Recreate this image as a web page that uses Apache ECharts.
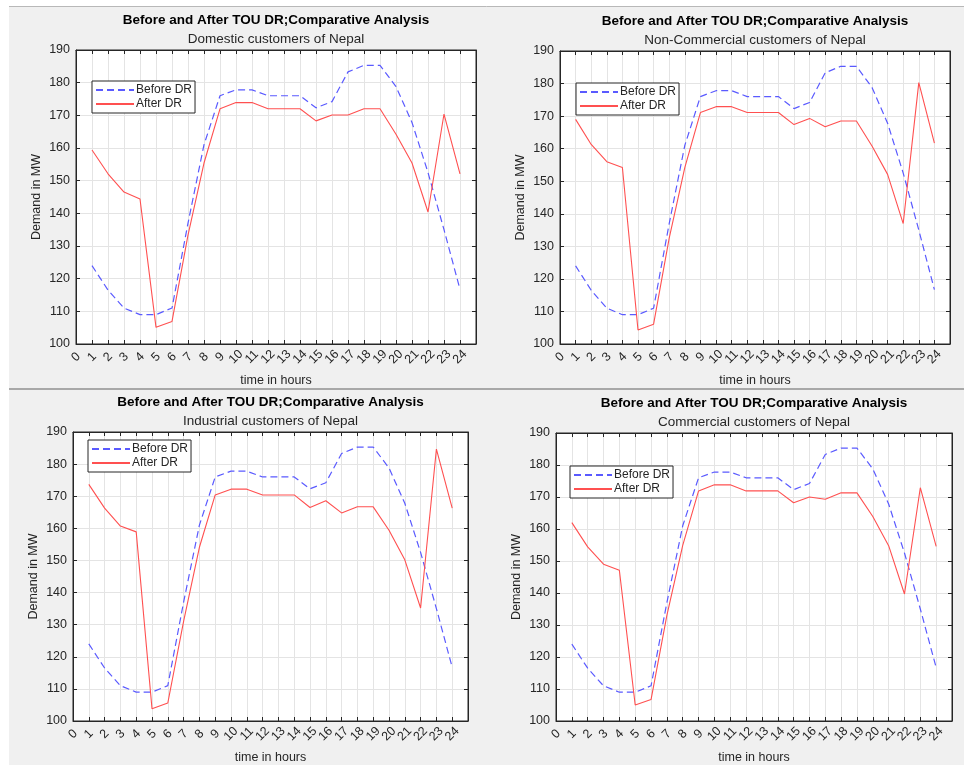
<!DOCTYPE html>
<html>
<head>
<meta charset="utf-8">
<script src="https://cdn.jsdelivr.net/npm/echarts@6/dist/echarts.min.js"></script>
<style>
  html, body { margin: 0; padding: 0; background: #ffffff; }
  #chart { width: 964px; height: 765px; }
</style>
</head>
<body>
<div id="chart"></div>
<script>
// ---------------- data ----------------
const hours = [1,2,3,4,5,6,7,8,9,10,11,12,13,14,15,16,17,18,19,20,21,22,23,24];
const xTickLabels = ['0','1','2','3','4','5','6','7','8','9','10','11','12','13','14','15','16','17','18','19','20','21','22','23','24'];
const yTicks = [100,110,120,130,140,150,160,170,180,190];

const beforeDR = [124,116.5,111,109,109,111,137,161,176,177.8,177.8,176,176,176,172.3,174.2,183.3,185.3,185.3,178.8,167.8,152.5,135,116.7];

const afterDomestic      = [159.4,152.1,146.5,144.4,105.1,106.9,133.3,155.4,172,173.9,173.9,172,172,172,168.3,170.1,170.1,172,172,164.2,155.4,140.4,170.4,152.1];
const afterNonCommercial = [169,161.3,156,154.2,104.3,106.1,132.5,154.2,171.1,172.9,172.9,171.1,171.1,171.1,167.4,169.3,166.7,168.5,168.5,160.8,152.1,137,180.3,161.7];
const afterIndustrial    = [173.7,166.3,160.7,158.9,103.8,105.6,131,154.1,170.4,172.2,172.2,170.4,170.4,170.4,166.5,168.6,164.8,166.7,166.7,159.4,150.2,135.2,184.7,166.3];
const afterCommercial    = [162,154.4,149,147.1,105,106.7,133,154.9,171.9,173.8,173.8,171.9,171.9,171.9,168.2,170,169.3,171.3,171.3,163.9,154.8,139.7,172.9,154.6];

const mainTitle = 'Before and After TOU DR;Comparative Analysis';
const subTitles = ['Domestic customers of Nepal','Non-Commercial customers of Nepal','Industrial customers of Nepal','Commercial customers of Nepal'];
const afterSets = [afterDomestic, afterNonCommercial, afterIndustrial, afterCommercial];
const seriesNames = ['Before DR','After DR'];
const xName = 'time in hours';
const yName = 'Demand in MW';

// ---------------- layout (styling only) ----------------
const panels = [
  {left: 76,  top: 50,  width: 400, height: 294, legendLeft: 92,  legendTop: 81,  titleTop: 13},
  {left: 560, top: 51,  width: 390, height: 293, legendLeft: 576, legendTop: 83,  titleTop: 14},
  {left: 73,  top: 432, width: 395, height: 293, legendLeft: 88,  legendTop: 440, titleTop: 395},
  {left: 556, top: 433, width: 396, height: 292, legendLeft: 570, legendTop: 466, titleTop: 396}
];

const FONT = '"Liberation Sans", Arial, Helvetica, sans-serif';
const DARK = '#262626';
const GRIDC = '#e4e4e4';
const BLUE = '#5a5aff';
const RED = '#ff5050';

const option = {
  animation: false,
  backgroundColor: '#ffffff',
  textStyle: { fontFamily: FONT },
  title: [], grid: [], xAxis: [], yAxis: [], series: [], legend: [],
  graphic: [
    { type: 'rect', z: -10, shape: { x: 9, y: 6, width: 955, height: 759 }, style: { fill: '#f0f0f0' } },
    { type: 'line', z: -9, shape: { x1: 9, y1: 6.5, x2: 964, y2: 6.5 }, style: { stroke: '#b8b8b8', lineWidth: 1 } },
    { type: 'line', z: -9, shape: { x1: 9, y1: 389, x2: 964, y2: 389 }, style: { stroke: '#a8a8a8', lineWidth: 2 } }
  ]
};

panels.forEach((p, i) => {
  option.title.push({
    text: mainTitle,
    subtext: subTitles[i],
    left: p.left + p.width / 2,
    top: p.titleTop,
    textAlign: 'center',
    itemGap: 5,
    padding: 0,
    textStyle: { fontFamily: FONT, fontSize: 13.5, fontWeight: 'bold', color: '#000' },
    subtextStyle: { fontFamily: FONT, fontSize: 13.5, color: DARK }
  });
  option.grid.push({
    left: p.left, top: p.top, width: p.width, height: p.height,
    show: true, backgroundColor: '#ffffff', borderColor: DARK, borderWidth: 1
  });
  // bottom x axis
  option.xAxis.push({
    type: 'value', gridIndex: i, min: 0, max: 25, interval: 1, position: 'bottom',
    name: xName, nameLocation: 'middle', nameGap: 30,
    nameTextStyle: { fontFamily: FONT, fontSize: 12.5, color: DARK },
    axisLine: { show: true, onZero: false, lineStyle: { color: DARK, width: 1 } },
    axisTick: { show: true, inside: true, length: 4, lineStyle: { color: DARK } },
    axisLabel: {
      rotate: 45, margin: 13, align: 'center', verticalAlign: 'middle',
      fontFamily: FONT, fontSize: 12.5, color: DARK,
      formatter: v => (v < xTickLabels.length ? xTickLabels[v] : '')
    },
    splitLine: { show: true, lineStyle: { color: GRIDC, width: 1 } }
  });
  // top x axis (ticks only)
  option.xAxis.push({
    type: 'value', gridIndex: i, min: 0, max: 25, interval: 1, position: 'top',
    axisLine: { show: true, onZero: false, lineStyle: { color: DARK, width: 1 } },
    axisTick: { show: true, inside: true, length: 4, lineStyle: { color: DARK } },
    axisLabel: { show: false }, splitLine: { show: false }
  });
  // left y axis
  option.yAxis.push({
    type: 'value', gridIndex: i, min: yTicks[0], max: yTicks[yTicks.length - 1], interval: 10, position: 'left',
    name: yName, nameLocation: 'middle', nameGap: 33,
    nameTextStyle: { fontFamily: FONT, fontSize: 12.5, color: DARK },
    axisLine: { show: true, onZero: false, lineStyle: { color: DARK, width: 1 } },
    axisTick: { show: true, inside: true, length: 4, lineStyle: { color: DARK } },
    axisLabel: { margin: 6, fontFamily: FONT, fontSize: 12.5, color: DARK },
    splitLine: { show: true, lineStyle: { color: GRIDC, width: 1 } }
  });
  // right y axis (ticks only)
  option.yAxis.push({
    type: 'value', gridIndex: i, min: yTicks[0], max: yTicks[yTicks.length - 1], interval: 10, position: 'right',
    axisLine: { show: true, onZero: false, lineStyle: { color: DARK, width: 1 } },
    axisTick: { show: true, inside: true, length: 4, lineStyle: { color: DARK } },
    axisLabel: { show: false }, splitLine: { show: false }
  });
  option.series.push({
    name: seriesNames[0], type: 'line', xAxisIndex: 2 * i, yAxisIndex: 2 * i,
    symbol: 'none', data: hours.map((h, k) => [h, beforeDR[k]]),
    lineStyle: { color: BLUE, width: 1.2, type: [7, 4] }, itemStyle: { color: BLUE }, z: 3
  });
  option.series.push({
    name: seriesNames[1], type: 'line', xAxisIndex: 2 * i, yAxisIndex: 2 * i,
    symbol: 'none', data: hours.map((h, k) => [h, afterSets[i][k]]),
    lineStyle: { color: RED, width: 1.1, type: 'solid' }, itemStyle: { color: RED }, z: 4
  });
  option.legend.push({
    data: seriesNames, orient: 'vertical', left: p.legendLeft, top: p.legendTop,
    itemWidth: 38, itemHeight: 10, itemGap: 2,
    padding: [3, 3, 3, 3],
    backgroundColor: '#ffffff', borderColor: DARK, borderWidth: 1, borderRadius: 0,
    selectedMode: false,
    itemStyle: { opacity: 0 },
    textStyle: { fontFamily: FONT, fontSize: 12, color: DARK, padding: [0, 0, 0, -3] }
  });
});

const chart = echarts.init(document.getElementById('chart'), null, { renderer: 'canvas' });
chart.setOption(option);
</script>
</body>
</html>
